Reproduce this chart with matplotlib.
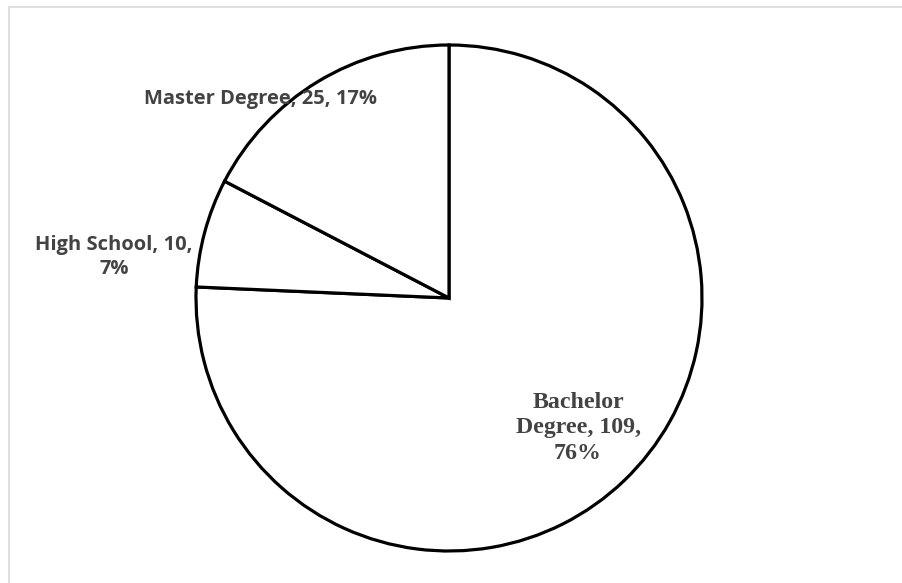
import matplotlib.pyplot as plt
from matplotlib.patches import Rectangle

# education level counts
categories = ['Bachelor Degree', 'High School', 'Master Degree']
counts = [109, 10, 25]

W, H = 902, 583
CX, CY, R = 449, 298, 253  # pie centre / radius in pixels

fig = plt.figure(figsize=(W / 100, H / 100), dpi=100)
ax = fig.add_axes([0, 0, 1, 1])

wedges, _ = ax.pie(counts, startangle=90, counterclock=False, radius=R, center=(CX, H - CY),
                   colors=['white'] * len(counts),
                   wedgeprops=dict(edgecolor='black', linewidth=2.3))
ax.set_xlim(0, W)
ax.set_ylim(0, H)
ax.set_aspect('auto')
ax.axis('off')

total = sum(counts)
labels = [f"{c}, {v}, {round(v / total * 100)}%" for c, v in zip(categories, counts)]
grey = '#434343'

# Bachelor label sits inside its slice, serif font
b_name = categories[0].split()
ax.text(578, H - 428, f"{b_name[0]}\n{b_name[1]}, {counts[0]},\n{round(counts[0] / total * 100)}%",
        ha='center', va='center', family='Liberation Serif', weight='bold',
        fontsize=17.2, color=grey, linespacing=1.3)

# High School label outside the left edge
ax.text(114, H - 257, f"{categories[1]}, {counts[1]},\n{round(counts[1] / total * 100)}%",
        ha='center', va='center', family='Open Sans', weight='bold',
        fontsize=14.5, color=grey, linespacing=1.33)

# Master label near the top
ax.text(261, H - 99, labels[2], ha='center', va='center', family='Open Sans',
        weight='bold', fontsize=14.5, color=grey)

# light frame round the chart area
fig.patches.append(Rectangle((8.5 / W, -0.1), 1.2, (H - 7.5) / H + 0.1,
                             transform=fig.transFigure, fill=False,
                             edgecolor='#d9d9d9', linewidth=1.2))

fig.savefig('out.png', dpi=100, facecolor='white')
